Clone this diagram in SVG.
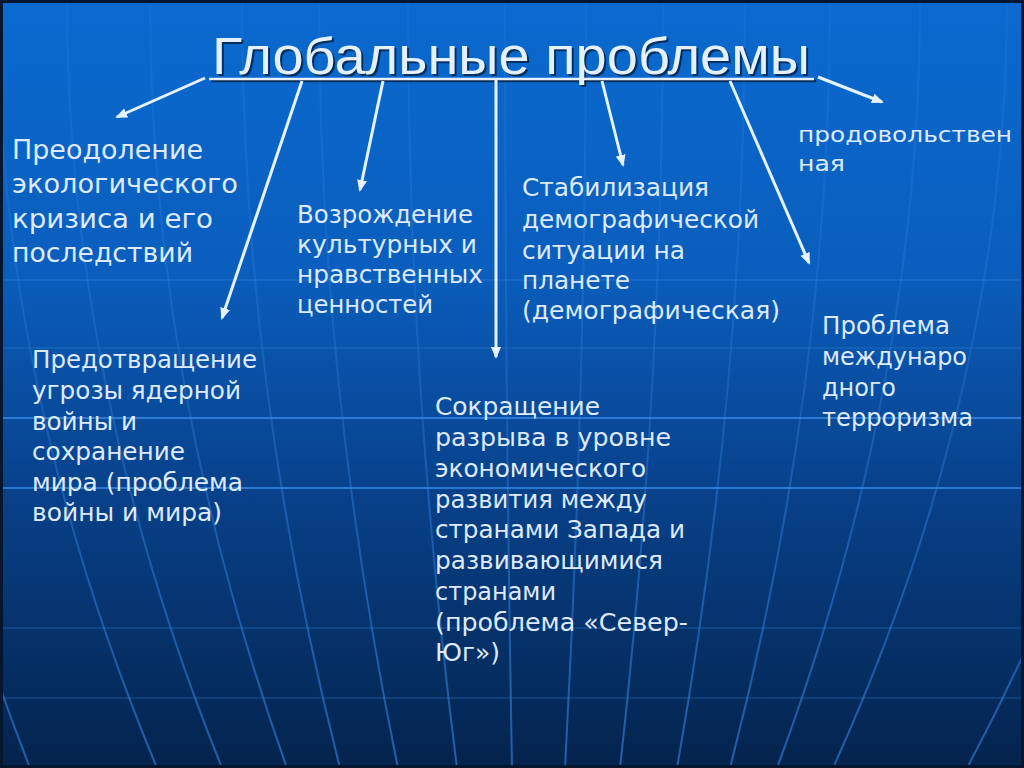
<svg xmlns="http://www.w3.org/2000/svg" width="1024" height="768" viewBox="0 0 1024 768">
<defs>
<linearGradient id="bg" x1="0" y1="0" x2="0" y2="1">
<stop offset="0" stop-color="#0a6ad0"/>
<stop offset="0.35" stop-color="#0a5ebd"/>
<stop offset="0.62" stop-color="#08438e"/>
<stop offset="1" stop-color="#04234c"/>
</linearGradient>
<linearGradient id="grid" gradientUnits="userSpaceOnUse" x1="0" y1="0" x2="0" y2="768">
<stop offset="0" stop-color="#4a9af0" stop-opacity="0.1"/>
<stop offset="0.5" stop-color="#3a8ae8" stop-opacity="0.28"/>
<stop offset="1" stop-color="#2f80e0" stop-opacity="0.65"/>
</linearGradient>
<marker id="ah" markerUnits="userSpaceOnUse" markerWidth="14" markerHeight="12" refX="10" refY="5" orient="auto">
<path d="M0,0 L12,5 L0,10 Z" fill="#e6f3ff"/>
</marker>
</defs>
<style>
.t{font-family:"DejaVu Sans",Verdana,sans-serif;fill:#dfeaff}
.f26{font-size:26px}.f24{font-size:24px}.f22{font-size:22px}
.mer{fill:none;stroke:url(#grid);stroke-width:2}
.par{stroke:#3a8ae8;stroke-width:1.5;stroke-opacity:0.3}
.parb{stroke:#3a90f0;stroke-width:2;stroke-opacity:0.7}
.con{stroke:#e6f3ff;stroke-width:3;fill:none;marker-end:url(#ah)}
</style>
<rect x="0" y="0" width="1024" height="768" fill="url(#bg)"/>
<g id="globe-grid">
<line class="par" x1="0" y1="280" x2="1024" y2="280"/>
<line class="par" x1="0" y1="348" x2="1024" y2="348"/>
<line class="parb" x1="0" y1="418" x2="1024" y2="418"/>
<line class="parb" x1="0" y1="488" x2="1024" y2="488"/>
<line class="par" x1="0" y1="628" x2="1024" y2="628"/>
<line class="par" x1="0" y1="698" x2="1024" y2="698" stroke-opacity="0.45"/>
<path class="mer" d="M-120,0 Q-120,384 30,768"/>
<path class="mer" d="M-3,0 Q-3,384 157,768"/>
<path class="mer" d="M67,0 Q67,384 222,768"/>
<path class="mer" d="M150,0 Q150,384 287,768"/>
<path class="mer" d="M242,0 Q242,384 340,768"/>
<path class="mer" d="M319,0 Q319,384 398,768"/>
<path class="mer" d="M408,0 Q408,384 457,768"/>
<path class="mer" d="M505,0 Q505,384 512,768"/>
<path class="mer" d="M586,0 Q586,384 565,768"/>
<path class="mer" d="M663,0 Q663,384 620,768"/>
<path class="mer" d="M745,0 Q745,384 677,768"/>
<path class="mer" d="M830,0 Q830,384 730,768"/>
<path class="mer" d="M920,0 Q920,384 777,768"/>
<path class="mer" d="M1007,0 Q1007,384 833,768"/>
<path class="mer" d="M1173,0 Q1173,384 967,768"/>
</g>
<rect x="1.5" y="1.5" width="1021" height="765" fill="none" stroke="#06162e" stroke-width="3"/>
<g id="title">
<text x="214" y="76" font-family="'Liberation Sans',Arial,sans-serif" font-size="51" fill="#000" fill-opacity="0.55" textLength="598" lengthAdjust="spacingAndGlyphs">Глобальные проблемы</text>
<line x1="211" y1="81" x2="816" y2="81" stroke="#000" stroke-opacity="0.55" stroke-width="2.5"/>
<text x="212" y="74" font-family="'Liberation Sans',Arial,sans-serif" font-size="51" fill="#e4f0ff" textLength="598" lengthAdjust="spacingAndGlyphs">Глобальные проблемы</text>
<line x1="209" y1="79" x2="814" y2="79" stroke="#e4f0ff" stroke-width="2.5"/>
</g>
<g id="connectors">
<line class="con" x1="205" y1="78" x2="117" y2="117"/>
<line class="con" x1="302" y1="81" x2="222" y2="318"/>
<line class="con" x1="383" y1="81" x2="360" y2="190"/>
<line class="con" x1="496" y1="80" x2="496" y2="357"/>
<line class="con" x1="602" y1="81" x2="623" y2="165"/>
<line class="con" x1="730" y1="81" x2="809" y2="263"/>
<line class="con" x1="818" y1="77" x2="882" y2="102"/>
</g>
<g id="node-ecology" class="t f26">
<text x="12" y="159" textLength="191" lengthAdjust="spacingAndGlyphs">Преодоление</text>
<text x="12" y="193" textLength="226" lengthAdjust="spacingAndGlyphs">экологического</text>
<text x="12" y="228" textLength="201" lengthAdjust="spacingAndGlyphs">кризиса и его</text>
<text x="12" y="262" textLength="181" lengthAdjust="spacingAndGlyphs">последствий</text>
</g>
<g id="node-culture" class="t f24">
<text x="297" y="223" textLength="176" lengthAdjust="spacingAndGlyphs">Возрождение</text>
<text x="297" y="253" textLength="180" lengthAdjust="spacingAndGlyphs">культурных и</text>
<text x="297" y="283" textLength="186" lengthAdjust="spacingAndGlyphs">нравственных</text>
<text x="297" y="313" textLength="136" lengthAdjust="spacingAndGlyphs">ценностей</text>
</g>
<g id="node-war" class="t f24">
<text x="32" y="368" textLength="225" lengthAdjust="spacingAndGlyphs">Предотвращение</text>
<text x="32" y="399" textLength="209" lengthAdjust="spacingAndGlyphs">угрозы ядерной</text>
<text x="32" y="430" textLength="105" lengthAdjust="spacingAndGlyphs">войны и</text>
<text x="32" y="460" textLength="153" lengthAdjust="spacingAndGlyphs">сохранение</text>
<text x="32" y="491" textLength="211" lengthAdjust="spacingAndGlyphs">мира (проблема</text>
<text x="32" y="521" textLength="190" lengthAdjust="spacingAndGlyphs">войны и мира)</text>
</g>
<g id="node-northsouth" class="t f24">
<text x="435" y="415" textLength="165" lengthAdjust="spacingAndGlyphs">Сокращение</text>
<text x="435" y="446" textLength="236" lengthAdjust="spacingAndGlyphs">разрыва в уровне</text>
<text x="435" y="477" textLength="211" lengthAdjust="spacingAndGlyphs">экономического</text>
<text x="435" y="508" textLength="212" lengthAdjust="spacingAndGlyphs">развития между</text>
<text x="435" y="538" textLength="250" lengthAdjust="spacingAndGlyphs">странами Запада и</text>
<text x="435" y="569" textLength="228" lengthAdjust="spacingAndGlyphs">развивающимися</text>
<text x="435" y="600" textLength="121" lengthAdjust="spacingAndGlyphs">странами</text>
<text x="435" y="631" textLength="253" lengthAdjust="spacingAndGlyphs">(проблема «Север-</text>
<text x="435" y="661" textLength="65" lengthAdjust="spacingAndGlyphs">Юг»)</text>
</g>
<g id="node-demography" class="t f24">
<text x="522" y="196" textLength="187" lengthAdjust="spacingAndGlyphs">Стабилизация</text>
<text x="522" y="228" textLength="237" lengthAdjust="spacingAndGlyphs">демографической</text>
<text x="522" y="259" textLength="163" lengthAdjust="spacingAndGlyphs">ситуации на</text>
<text x="522" y="289" textLength="108" lengthAdjust="spacingAndGlyphs">планете</text>
<text x="522" y="319" textLength="258" lengthAdjust="spacingAndGlyphs">(демографическая)</text>
</g>
<g id="node-food" class="t f22">
<text x="798" y="142" textLength="214" lengthAdjust="spacingAndGlyphs">продовольствен</text>
<text x="798" y="171" textLength="47" lengthAdjust="spacingAndGlyphs">ная</text>
</g>
<g id="node-terror" class="t f24">
<text x="822" y="334" textLength="128" lengthAdjust="spacingAndGlyphs">Проблема</text>
<text x="822" y="365" textLength="145" lengthAdjust="spacingAndGlyphs">междунаро</text>
<text x="822" y="396" textLength="74" lengthAdjust="spacingAndGlyphs">дного</text>
<text x="822" y="426" textLength="151" lengthAdjust="spacingAndGlyphs">терроризма</text>
</g>
</svg>
